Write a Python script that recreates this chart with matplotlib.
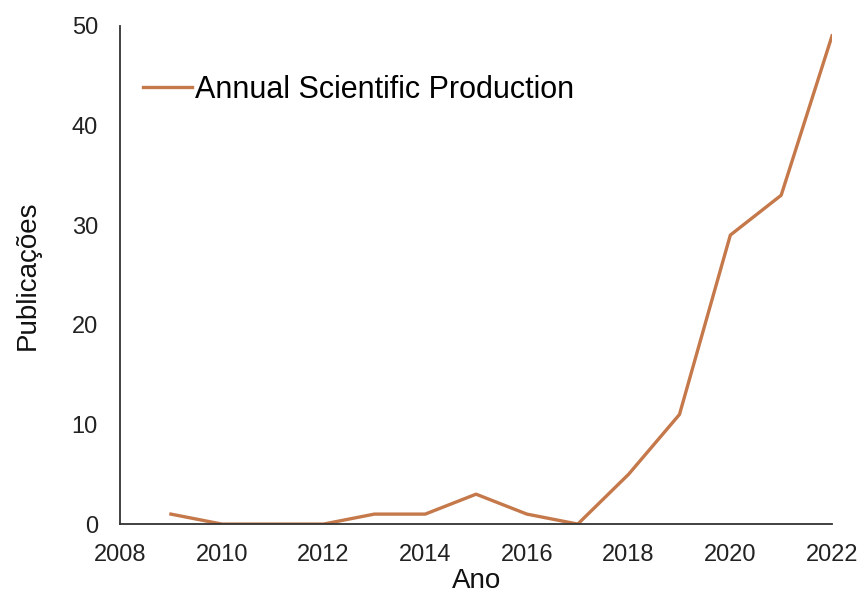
import numpy as np
import matplotlib.pyplot as plt

# Annual scientific production per year
anos = [2009, 2010, 2011, 2012, 2013, 2014, 2015, 2016, 2017, 2018, 2019, 2020, 2021, 2022]
publicacoes = [1, 0, 0, 0, 1, 1, 3, 1, 0, 5, 11, 29, 33, 49]

plt.rcParams['font.family'] = ['Liberation Sans', 'DejaVu Sans']

fig = plt.figure(figsize=(8.64, 6.01), dpi=100)
ax = fig.add_axes([0.139, 0.128, 0.824, 0.829])

ax.plot(anos, publicacoes, color='#C5784A', linewidth=2.4,
        label='Annual Scientific Production')

ax.set_xlim(2008, 2022)
ax.set_ylim(0, 50)
ax.set_xticks(np.arange(2008, 2023, 2))
ax.set_yticks(np.arange(0, 51, 10))
ax.tick_params(length=0, labelsize=17, colors='#222222')
ax.tick_params(axis='x', pad=14)
ax.tick_params(axis='y', pad=16)

for s in ['top', 'right']:
    ax.spines[s].set_visible(False)
for s in ['left', 'bottom']:
    ax.spines[s].set_color('#333333')
    ax.spines[s].set_linewidth(1.3)

ax.set_xlabel('Ano', fontsize=20, color='#111111', labelpad=2)
ax.set_ylabel('Publicações', fontsize=20, color='#111111', labelpad=22)

ax.legend(loc='center left', bbox_to_anchor=(0.032, 0.872), frameon=False,
          fontsize=22, handlelength=1.6, handletextpad=0.1,
          borderaxespad=0, borderpad=0)

fig.savefig('out.png', dpi=100)
